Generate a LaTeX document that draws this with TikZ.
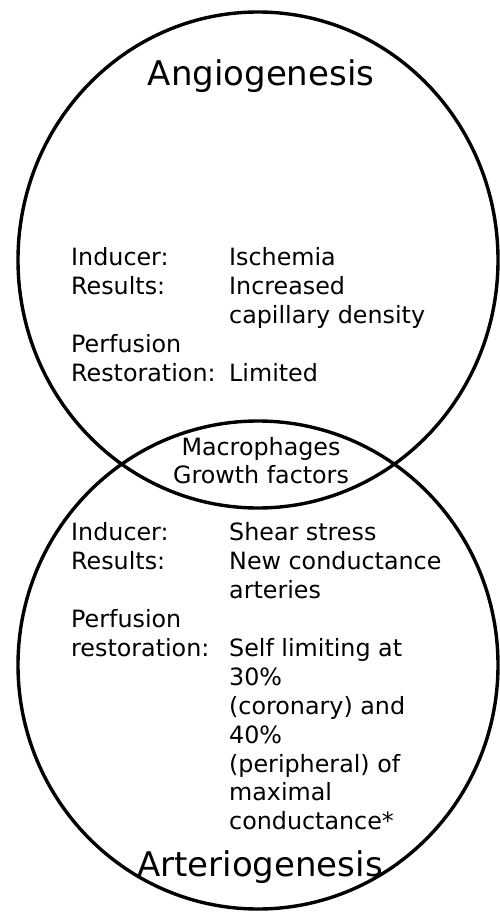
\documentclass[tikz,border=0pt]{standalone}
\usepackage{fontspec}
\setmainfont{DejaVu Sans}
\begin{document}
\begin{tikzpicture}[x=1pt,y=1pt,
  txt/.style={anchor=base west, inner sep=0pt, font=\fontsize{23.8}{29}\selectfont},
  ctxt/.style={anchor=base, inner sep=0pt, font=\fontsize{23.8}{29}\selectfont},
  title/.style={anchor=base, inner sep=0pt, font=\fontsize{34}{40}\selectfont},
  ring/.style={line width=3.4pt}]
\useasboundingbox[fill=white] (0,0) rectangle (500,-912);
\draw[ring] (258,-260) ellipse [x radius=240, y radius=248];
\draw[ring] (258,-665) ellipse [x radius=240, y radius=244];
% top circle
\node[title] (angio) at (261,-86) {Angiogenesis};
\node[txt] (a1l) at (71,-265) {Inducer:};
\node[txt] (a1r) at (229,-265) {Ischemia};
\node[txt] (a2l) at (71,-294) {Results:};
\node[txt] (a2r) at (229,-294) {Increased};
\node[txt] (a3r) at (229,-323) {capillary density};
\node[txt] (a4l) at (71,-352) {Perfusion};
\node[txt] (a5l) at (71,-381) {Restoration:};
\node[txt] (a5r) at (229,-381) {Limited};
% overlap
\node[ctxt] (m1) at (261,-455) {Macrophages};
\node[ctxt] (m2) at (261,-483) {Growth factors};
% bottom circle
\node[txt] (b1l) at (71,-540) {Inducer:};
\node[txt] (b1r) at (229,-540) {Shear stress};
\node[txt] (b2l) at (71,-569) {Results:};
\node[txt] (b2r) at (229,-569) {New conductance};
\node[txt] (b3r) at (229,-598) {arteries};
\node[txt] (b4l) at (71,-627) {Perfusion};
\node[txt] (b5l) at (71,-656) {restoration:};
\node[txt] (b5r) at (229,-656) {Self limiting at};
\node[txt] (b6r) at (229,-685) {30\%};
\node[txt] (b7r) at (229,-714) {(coronary) and};
\node[txt] (b8r) at (229,-743) {40\%};
\node[txt] (b9r) at (229,-772) {(peripheral) of};
\node[txt] (b10r) at (229,-800) {maximal};
\node[txt] (b11r) at (229,-829) {conductance*};
\node[title] (arterio) at (260,-876) {Arteriogenesis};
\end{tikzpicture}
\end{document}
